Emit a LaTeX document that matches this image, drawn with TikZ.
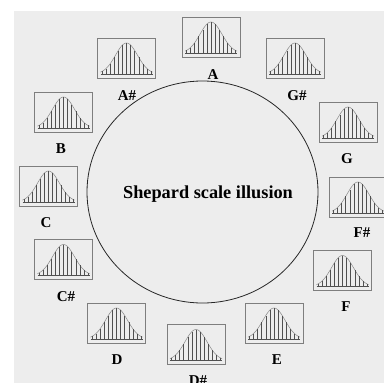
\documentclass[tikz,border=0pt]{standalone}
\usepackage{fontspec}
\setmainfont{Liberation Serif}
\usetikzlibrary{shapes.geometric}
\definecolor{bg}{HTML}{EDEDED}
\definecolor{boxgray}{HTML}{7E7E7E}
\definecolor{curvegray}{HTML}{8A8A8A}
\definecolor{linegray}{HTML}{505050}
\begin{document}
\begin{tikzpicture}[x=1pt,y=-1pt,
  bx/.style={draw=boxgray, line width=0.7pt, minimum width=58pt, minimum height=40pt, inner sep=0pt},
  lab/.style={font=\fontsize{15}{15}\selectfont\bfseries, anchor=base, inner sep=0pt},
  bell/.pic={
    \draw[curvegray, line width=0.5pt] plot[domain=-26:26, samples=61, smooth] (\x,{16-31*exp(-(\x*\x)/242)});
    \foreach \k in {-6,...,6}{
      \draw[linegray, line width=0.5pt] ({\k*4.1},16) -- ({\k*4.1},{16-31*exp(-(\k*4.1)*(\k*4.1)/242)});
    }
    \draw[linegray, line width=0.6pt] (-26,16) -- (26,16);
  }]
\useasboundingbox (0,0) rectangle (384,383);
\clip (0,0) rectangle (384,383);
\fill[white] (0,0) rectangle (384,383);
\fill[bg] (14,11) rectangle (384,383);

\node[draw=black!85, line width=0.8pt, ellipse, minimum width=231pt, minimum height=222pt, inner sep=0pt] (circ) at (202.5,192) {};
\node[font=\fontsize{18.3}{20}\selectfont\bfseries, anchor=base, inner sep=0pt] (title) at (208,198) {Shepard scale illusion};

\node[bx] (bA)  at (211,37) {};     \pic at (bA) {bell};
\node[bx] (bAs) at (126.5,58) {};   \pic at (bAs) {bell};
\node[bx] (bGs) at (295,58) {};     \pic at (bGs) {bell};
\node[bx] (bB)  at (63.5,112) {};   \pic at (bB) {bell};
\node[bx] (bG)  at (348,122) {};    \pic at (bG) {bell};
\node[bx] (bC)  at (48.5,186) {};   \pic at (bC) {bell};
\node[bx] (bFs) at (358,197) {};    \pic at (bFs) {bell};
\node[bx] (bCs) at (63.5,259.5) {}; \pic at (bCs) {bell};
\node[bx] (bF)  at (342.5,270.5) {};\pic at (bF) {bell};
\node[bx] (bD)  at (116.5,323) {};  \pic at (bD) {bell};
\node[bx] (bDs) at (196,344.5) {};  \pic at (bDs) {bell};
\node[bx] (bE)  at (274,323) {};    \pic at (bE) {bell};

\node[lab] (lA)  at (213,79) {A};
\node[lab] (lAs) at (127,100) {A\#};
\node[lab] (lGs) at (297,100) {G\#};
\node[lab] (lB)  at (61,153) {B};
\node[lab] (lG)  at (347,163) {G};
\node[lab] (lC)  at (46,227) {C};
\node[lab] (lFs) at (362,237) {F\#};
\node[lab] (lCs) at (66,301) {C\#};
\node[lab] (lF)  at (346,311) {F};
\node[lab] (lD)  at (117,364) {D};
\node[lab] (lE)  at (277,364) {E};
\node[lab] (lDs) at (198,385) {D\#};
\end{tikzpicture}
\end{document}
